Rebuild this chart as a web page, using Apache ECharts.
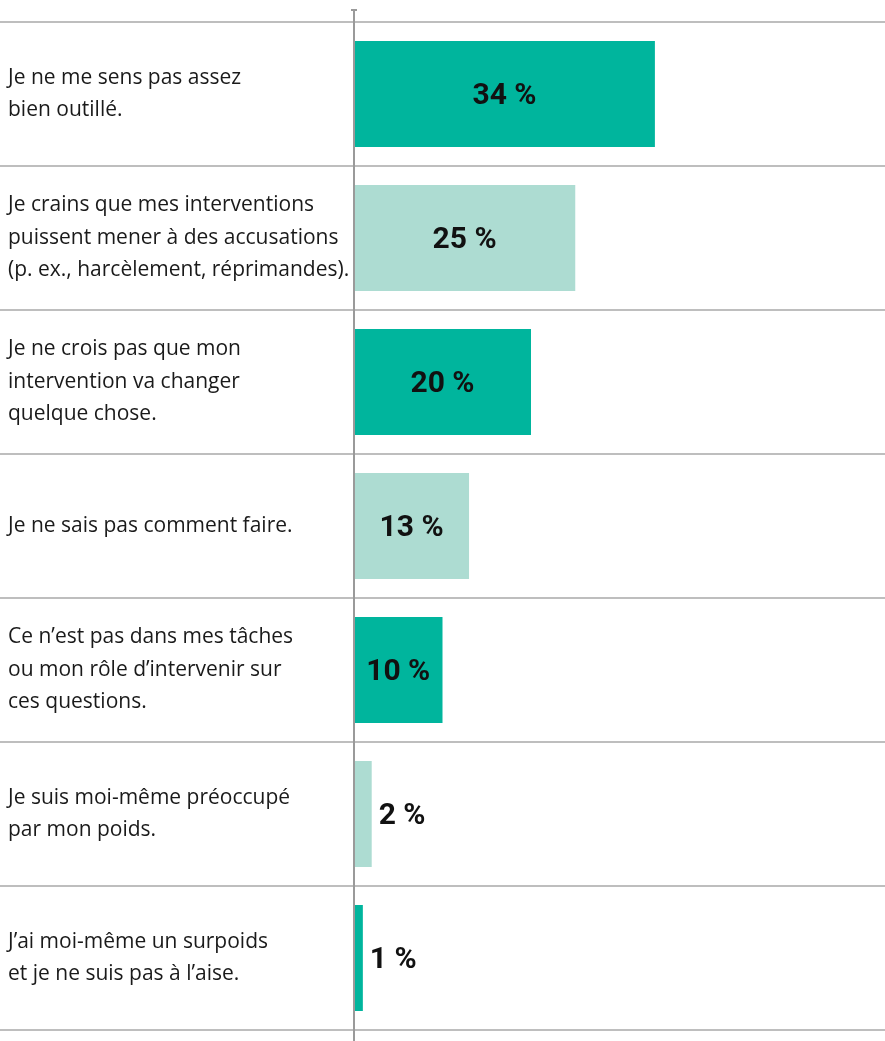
<!DOCTYPE html>
<html>
<head>
<meta charset="utf-8">
<script src="https://cdn.jsdelivr.net/npm/echarts@6/dist/echarts.min.js"></script>
<style>
  html, body { margin: 0; padding: 0; background: #fff; }
  #chart { width: 885px; height: 1041px; }
</style>
</head>
<body>
<div id="chart"></div>
<script>
const categories = [
  'Je ne me sens pas assez\nbien outillé.',
  'Je crains que mes interventions\npuissent mener à des accusations\n(p. ex., harcèlement, réprimandes).',
  'Je ne crois pas que mon\nintervention va changer\nquelque chose.',
  'Je ne sais pas comment faire.',
  'Ce n’est pas dans mes tâches\nou mon rôle d’intervenir sur\nces questions.',
  'Je suis moi-même préoccupé\npar mon poids.',
  'J’ai moi-même un surpoids\net je ne suis pas à l’aise.',
];
const values = [34, 25, 20, 13, 10, 2, 1];

const DARK = '#00b59d';
const LIGHT = '#addcd2';

const chart = echarts.init(document.getElementById('chart'));

chart.setOption({
  animation: false,
  grid: { left: 0, right: 0, top: 22, bottom: 11, containLabel: false, outerBoundsMode: 'none' },
  xAxis: {
    type: 'value',
    min: -40,
    max: 60,
    show: false,
  },
  yAxis: {
    type: 'category',
    inverse: true,
    data: categories,
    axisLine: { show: false, onZero: false },
    axisTick: { show: false },
    axisLabel: {
      align: 'left',
      margin: -8,
      color: '#1a1a1a',
      fontFamily: 'Open Sans',
      fontSize: 21,
      lineHeight: 32.5,
    },
    splitLine: {
      show: true,
      interval: 0,
      lineStyle: { color: '#a9a9a9', width: 1.5 },
    },
  },
  series: [
    {
      type: 'bar',
      barWidth: 106,
      data: values.map((v, i) => ({
        value: v,
        itemStyle: { color: i % 2 === 0 ? DARK : LIGHT },
        label: v >= 10
          ? { position: 'inside' }
          : { position: 'right', distance: 7 },
      })),
      label: {
        show: true,
        formatter: '{c} %',
        color: '#111',
        fontFamily: 'Roboto',
        fontWeight: 'bold',
        fontSize: 30,
        offset: [0, 2],
      },
    },
  ],
});

// vertical axis line with small cap at top
const x0 = chart.convertToPixel({ xAxisIndex: 0 }, 0);
chart.setOption({
  graphic: [
    {
      type: 'line',
      shape: { x1: x0, y1: 10, x2: x0, y2: 1041 },
      style: { stroke: '#9a9a9a', lineWidth: 2 },
      z: 10,
    },
    {
      type: 'line',
      shape: { x1: x0 - 3, y1: 10, x2: x0 + 3, y2: 10 },
      style: { stroke: '#9a9a9a', lineWidth: 2 },
      z: 10,
    },
  ],
});
</script>
</body>
</html>
